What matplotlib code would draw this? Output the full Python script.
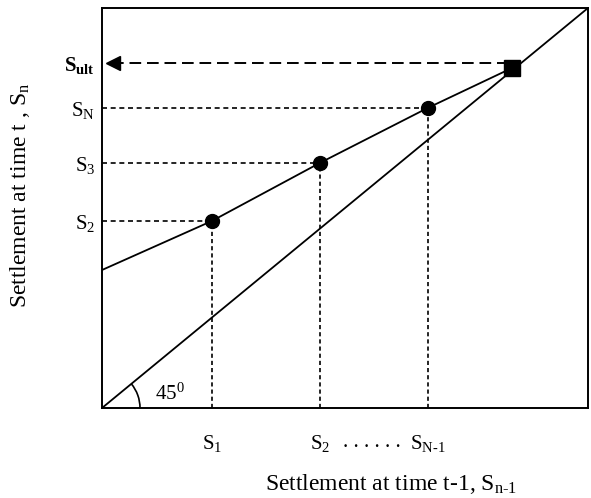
import numpy as np
import matplotlib
matplotlib.use("Agg")
import matplotlib.pyplot as plt
from matplotlib.patches import Arc

plt.rcParams["font.family"] = ["Liberation Serif", "DejaVu Serif"]
plt.rcParams["mathtext.fontset"] = "custom"
plt.rcParams["mathtext.rm"] = "Liberation Serif"
plt.rcParams["mathtext.it"] = "Liberation Serif:italic"
plt.rcParams["mathtext.bf"] = "Liberation Serif:bold"

# -------------------------------------------------------------------
# DATA (normalised axes, 0..1)
# -------------------------------------------------------------------
s_prev = [0.226, 0.448, 0.670]          # S1, S2, S_N-1 on x axis
s_curr = [0.4675, 0.6125, 0.75]         # S2, S3, S_N on y axis
s_ult_x = 0.8436
s_ult_y = 0.85
s_ult_level = 0.8625
line_start = 0.345                      # intercept of fitted line
x_tick_pos = [0.226, 0.448, 0.556, 0.670]
x_tick_lab = [r"$\mathrm{S}_1$", r"$\mathrm{S}_2$", ". . . . . .", r"$\mathrm{S}_{\mathrm{N}\text{-}1}$"]
y_tick_pos = [0.4675, 0.6125, 0.75, 0.8625]
y_tick_lab = [r"$\mathrm{S}_2$", r"$\mathrm{S}_3$", r"$\mathrm{S}_\mathrm{N}$", r"$\mathbf{S}_{\mathbf{ult}}$"]

fig = plt.figure(figsize=(5.91, 4.98), dpi=100)
ax = fig.add_axes([102 / 591, 90 / 498, 486 / 591, 400 / 498])
ax.set_xlim(0, 1)
ax.set_ylim(0, 1)

# 45 degree line
ax.plot([0, 1], [0, 1], color="black", lw=1.3)

# fitted line through points to S_ult
ax.plot([0] + s_prev + [s_ult_x], [line_start] + s_curr + [s_ult_y], color="black", lw=1.3)

# dashed guides
for xp, yp in zip(s_prev, s_curr):
    ax.plot([0, xp], [yp, yp], color="black", lw=1.2, dashes=(3, 2.2))
    ax.plot([xp, xp], [0, yp], color="black", lw=1.2, dashes=(2.5, 1.8))
ax.plot([0.02, s_ult_x], [s_ult_level, s_ult_level], color="black", lw=1.4, dashes=(6, 3))
ax.plot([0.022], [s_ult_level], marker="<", color="black", markersize=10, clip_on=False)

# markers
ax.plot(s_prev, s_curr, "o", color="black", markersize=10)
ax.plot([s_ult_x], [s_ult_y], "s", color="black", markersize=11)

# angle arc
r = 38
ax.add_patch(Arc((0, 0), 2 * r / 486, 2 * r / 400, theta1=0, theta2=45, color="black", lw=1.2))
ax.text(0.109, 0.035, r"45$^0$", fontsize=15, ha="left", va="center")

ax.set_xticks(x_tick_pos)
ax.set_xticklabels(x_tick_lab, fontsize=15)
ax.set_yticks(y_tick_pos)
ax.set_yticklabels(y_tick_lab, fontsize=15)
ax.tick_params(axis="both", length=0)
ax.tick_params(axis="x", pad=18)
ax.tick_params(axis="y", pad=5)

for sp in ax.spines.values():
    sp.set_linewidth(1.4)

ax.set_xlabel(r"Settlement at time t-1, $\mathrm{S}_{\mathrm{n}\text{-}1}$", fontsize=17)
ax.xaxis.set_label_coords(0.595, -0.16)
ax.set_ylabel(r"Settlement at time t , $\mathrm{S}_\mathrm{n}$", fontsize=17)
ax.yaxis.set_label_coords(-0.145, 0.5325)

plt.savefig("out.png", dpi=100)
